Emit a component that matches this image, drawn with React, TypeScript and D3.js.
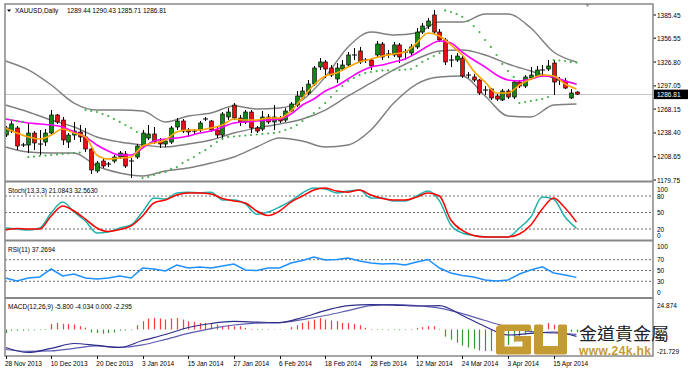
import React from 'react';
import * as d3 from 'd3';

// daily bars, 28 Nov 2013 .. 22 Apr 2014
const opens = [
  1235.8, 1240.8, 1244.6, 1223.4, 1223.4, 1238.3, 1224.6, 1227.1, 1238.3, 1260.8,
  1254.5, 1227.1, 1235.8, 1239.6, 1233.4, 1218.4, 1191.0, 1203.4, 1199.7, 1203.4,
  1208.4, 1212.2, 1203.4, 1208.4, 1222.1, 1232.1, 1237.1, 1228.4, 1224.6, 1227.1,
  1245.8, 1253.3, 1242.1, 1240.8, 1242.1, 1255.8, 1253.3, 1242.1, 1235.8, 1258.3,
  1273.2, 1257.0, 1252.1, 1264.5, 1244.6, 1243.3, 1258.3, 1252.1, 1257.0, 1254.5,
  1265.8, 1273.2, 1283.2, 1288.2, 1299.4, 1320.6, 1326.9, 1319.4, 1305.7, 1318.1,
  1323.1, 1335.6, 1340.6, 1329.3, 1329.3, 1335.6, 1349.3, 1336.8, 1335.6, 1348.1,
  1339.3, 1338.1, 1345.6, 1364.2, 1371.7, 1385.5, 1364.2, 1354.3, 1329.3, 1329.3,
  1331.8, 1310.6, 1308.2, 1304.4, 1291.9, 1293.2, 1284.5, 1279.5, 1290.7, 1283.2,
  1301.9, 1296.9, 1306.9, 1309.4, 1316.9, 1318.1, 1325.6, 1304.4, 1303.2, 1282.0,
  1289.44,
];
const highs = [
  1247.1, 1253.3, 1247.1, 1225.9, 1250.8, 1240.8, 1242.1, 1243.3, 1267.0, 1262.0,
  1258.3, 1238.3, 1252.1, 1248.3, 1244.6, 1219.6, 1203.4, 1205.9, 1202.2, 1210.9,
  1215.9, 1215.9, 1207.2, 1224.6, 1242.1, 1248.3, 1245.8, 1232.1, 1230.9, 1247.1,
  1257.0, 1255.8, 1244.6, 1243.3, 1253.3, 1258.3, 1254.5, 1245.8, 1264.5, 1269.5,
  1275.7, 1260.8, 1267.0, 1267.0, 1247.1, 1265.8, 1262.0, 1273.2, 1259.5, 1269.5,
  1277.0, 1290.7, 1295.7, 1304.4, 1321.9, 1331.8, 1329.3, 1323.1, 1325.6, 1329.3,
  1339.3, 1344.3, 1345.6, 1331.8, 1331.8, 1353.0, 1351.8, 1341.8, 1351.8, 1350.5,
  1343.1, 1349.3, 1369.2, 1375.5, 1381.7, 1391.7, 1368.0, 1356.8, 1335.6, 1338.1,
  1334.3, 1314.4, 1311.9, 1305.7, 1296.9, 1294.4, 1287.0, 1293.2, 1293.2, 1304.4,
  1304.4, 1310.6, 1320.6, 1321.9, 1323.1, 1329.3, 1329.3, 1308.2, 1306.9, 1293.2,
  1290.43,
];
const lows = [
  1233.4, 1238.3, 1217.1, 1220.9, 1213.4, 1217.1, 1210.9, 1222.1, 1235.8, 1249.6,
  1223.4, 1219.6, 1229.6, 1227.1, 1214.6, 1187.2, 1188.5, 1194.7, 1195.9, 1200.9,
  1205.9, 1194.7, 1182.2, 1205.9, 1220.9, 1229.6, 1224.6, 1219.6, 1220.9, 1224.6,
  1242.1, 1238.3, 1233.4, 1235.8, 1239.6, 1253.3, 1239.6, 1232.1, 1232.1, 1254.5,
  1254.5, 1247.1, 1249.6, 1238.3, 1238.3, 1240.8, 1249.6, 1242.1, 1250.8, 1252.1,
  1264.5, 1270.8, 1280.7, 1285.7, 1296.9, 1316.9, 1306.9, 1308.2, 1300.7, 1315.6,
  1320.6, 1329.3, 1324.4, 1325.6, 1316.9, 1333.1, 1329.3, 1331.8, 1333.1, 1325.6,
  1329.3, 1334.3, 1343.1, 1361.8, 1368.0, 1361.8, 1351.8, 1323.1, 1320.6, 1326.9,
  1306.9, 1306.9, 1301.9, 1285.7, 1285.7, 1279.5, 1278.2, 1278.2, 1280.7, 1280.7,
  1294.4, 1294.4, 1304.4, 1308.2, 1308.2, 1315.6, 1285.7, 1298.2, 1293.2, 1280.7,
  1285.71,
];
const closes = [
  1244.6, 1249.6, 1222.1, 1222.8, 1238.3, 1225.9, 1224.3, 1238.3, 1260.8, 1252.1,
  1229.6, 1235.8, 1240.8, 1233.4, 1218.4, 1192.2, 1200.9, 1197.2, 1199.1, 1208.4,
  1213.4, 1197.2, 1202.8, 1222.1, 1238.3, 1237.1, 1227.1, 1224.6, 1228.4, 1244.6,
  1253.3, 1240.8, 1239.6, 1240.2, 1250.8, 1255.2, 1242.1, 1235.8, 1262.0, 1264.5,
  1257.0, 1252.1, 1264.5, 1244.6, 1240.8, 1258.3, 1252.1, 1258.3, 1253.3, 1265.8,
  1274.5, 1284.5, 1290.7, 1299.4, 1319.4, 1326.9, 1318.1, 1310.6, 1319.4, 1323.1,
  1335.6, 1335.0, 1326.9, 1328.7, 1321.9, 1349.3, 1333.1, 1336.2, 1348.1, 1333.1,
  1338.7, 1345.6, 1364.2, 1371.7, 1378.0, 1364.2, 1354.3, 1326.9, 1328.7, 1334.3,
  1309.4, 1310.0, 1304.4, 1288.2, 1291.3, 1282.0, 1280.7, 1290.7, 1283.2, 1301.9,
  1296.9, 1308.2, 1310.6, 1316.9, 1316.3, 1321.9, 1301.9, 1303.8, 1294.4, 1288.2,
  1286.81,
];

// parabolic SAR, one dot per bar
const sar = [
  1255.8, 1254.5, 1253.3, 1252.1, 1208.4, 1209.0, 1209.7, 1210.3, 1210.9, 1211.5,
  1212.2, 1212.8, 1213.4, 1214.0, 1267.0, 1265.8, 1264.5, 1262.0, 1259.5, 1255.8,
  1252.1, 1248.3, 1244.6, 1239.6, 1182.2, 1183.5, 1186.0, 1188.5, 1189.7, 1193.5,
  1195.9, 1200.9, 1204.7, 1208.4, 1213.4, 1217.1, 1222.1, 1227.1, 1230.9, 1233.4,
  1234.0, 1234.6, 1235.2, 1235.8, 1236.5, 1237.1, 1237.7, 1238.3, 1239.6, 1242.1,
  1244.6, 1248.3, 1253.3, 1258.3, 1263.3, 1269.5, 1275.7, 1283.2, 1290.7, 1296.9,
  1303.2, 1306.9, 1310.6, 1313.1, 1314.4, 1315.6, 1316.3, 1316.3, 1316.9, 1316.9,
  1317.5, 1318.1, 1321.9, 1326.9, 1330.6, 1334.3, 1338.1, 1391.1, 1389.2, 1386.7,
  1383.0, 1378.0, 1371.7, 1364.2, 1354.3, 1345.6, 1335.6, 1324.4, 1315.6, 1308.2,
  1275.7, 1277.0, 1278.2, 1279.5, 1280.7, 1283.2, 1329.3, 1328.7, 1328.1, 1326.9,
  1326.2,
];

// bollinger bands, read every 4th bar
const BAND_STEP = 4;
const bandUpper = [
  1328.1, 1316.9, 1298.2, 1275.7, 1267.0, 1267.0, 1265.8, 1252.1, 1259.5, 1263.3,
  1272.0, 1268.3, 1269.5, 1279.5, 1308.2, 1345.6, 1364.2, 1360.5, 1363.0, 1376.7,
  1376.7, 1386.7, 1386.7, 1369.2, 1339.3, 1326.9,
];
const bandMiddle = [
  1273.2, 1264.5, 1254.5, 1245.8, 1233.4, 1227.1, 1223.4, 1220.9, 1224.6, 1229.6,
  1238.3, 1244.6, 1249.6, 1255.8, 1267.0, 1284.5, 1300.7, 1316.9, 1330.6, 1340.6,
  1341.8, 1335.6, 1324.4, 1315.6, 1306.9, 1299.4,
];
const bandLower = [
  1220.9, 1214.6, 1213.4, 1213.4, 1197.2, 1188.5, 1184.7, 1191.0, 1194.7, 1200.9,
  1208.4, 1220.9, 1232.1, 1228.4, 1220.9, 1223.4, 1242.1, 1275.7, 1299.4, 1308.2,
  1309.4, 1284.5, 1259.5, 1258.3, 1273.2, 1274.5,
];

// moving averages, read every 2nd bar
const MA_STEP = 2;
const maFast = [
  1244.6, 1238.3, 1233.4, 1230.9, 1235.8, 1243.3, 1238.3, 1233.4, 1210.9, 1205.9,
  1207.2, 1208.4, 1222.1, 1225.9, 1229.6, 1239.6, 1242.1, 1242.1, 1244.6, 1248.3,
  1255.8, 1254.5, 1254.5, 1257.0, 1257.0, 1265.8, 1282.0, 1298.2, 1309.4, 1313.1,
  1320.6, 1326.9, 1330.6, 1334.3, 1336.8, 1339.3, 1350.5, 1363.0, 1359.3, 1348.1,
  1335.6, 1315.6, 1301.9, 1288.2, 1288.2, 1298.2, 1305.7, 1310.6, 1309.4, 1299.4,
  1293.2,
];
const maSlow = [
  1255.8, 1253.3, 1250.8, 1249.6, 1248.3, 1245.8, 1239.6, 1233.4, 1223.4, 1215.9,
  1210.9, 1210.9, 1219.6, 1228.4, 1230.9, 1232.1, 1234.6, 1238.3, 1240.8, 1245.8,
  1250.8, 1252.1, 1253.3, 1254.5, 1255.8, 1262.0, 1273.2, 1280.7, 1290.7, 1296.9,
  1305.7, 1314.4, 1320.6, 1323.1, 1326.9, 1330.6, 1338.1, 1346.8, 1353.0, 1350.5,
  1339.3, 1329.3, 1320.6, 1310.6, 1304.4, 1303.2, 1305.7, 1309.4, 1308.2, 1303.2,
  1299.4,
];

// oscillators, read every 2nd bar
const OSC_STEP = 2;
const stochK = [
  21.8, 20, 18.2, 21.8, 49, 69, 51, 34.5, 12.7, 14.5, 21.8, 27.3, 51, 76.4, 74.5,
  85.5, 87, 85.5, 87, 72.7, 72.7, 65.5, 47, 51, 60, 71, 85.5, 94.5, 92.7, 85.5,
  89, 90.9, 76.4, 76.4, 70.9, 70.9, 80, 89, 71, 27.3, 12.7, 8.2, 5.5, 5.5, 5.5,
  21.8, 41.8, 78, 74, 41.8, 21.08,
];
const stochD = [
  18.2, 21, 20, 20, 43.6, 61.8, 52.7, 38, 21.8, 15.5, 19, 25.5, 43.6, 67.3, 72.7,
  81.8, 85.5, 85.5, 83.6, 75.5, 70.9, 67.3, 52.7, 44.5, 52.7, 69, 80, 90.9, 94.5,
  89, 87, 90.9, 81.8, 75.5, 72.7, 72.7, 78, 85.5, 80, 36.4, 17.3, 8.2, 5.5, 5.5,
  5.5, 10.9, 27.3, 56.4, 76.4, 58, 32.56,
];
const rsi = [
  36.1, 30.6, 36.1, 38, 52.8, 39.8, 43.5, 36.1, 34.3, 36.1, 39.8, 36.1, 54.6, 52.8,
  49.1, 60.2, 54.6, 56.5, 54.6, 58.3, 62, 50.9, 50, 54.6, 54.6, 63.9, 68.5, 75,
  69.4, 70.4, 73.1, 67.6, 63.9, 62, 63, 60.2, 65.7, 70.4, 54.6, 45.4, 40.7, 38,
  32.4, 30.6, 32.4, 43.5, 50.9, 57, 45.4, 41.7, 37.27,
];

// MACD lines read every 4th bar, histogram per bar
const MACD_STEP = 4;
const macdMain = [
  -15, -19.2, -15.8, -11.7, -13.3, -15, -9.2, -4.2, 1.7, 5, 6.7, 6.2, 5.8, 10,
  15.8, 20, 20.8, 20.4, 19.6, 20, 11.7, 2.5, -4.6, -3.3, -2.1, -5.8,
];
const macdSignal = [
  -16.7, -18.3, -17.9, -15.8, -13.75, -15, -12.9, -8.3, -3.3, 0.8, 3.75, 5.4, 5.8,
  8.3, 11.7, 15.8, 20, 20.8, 20, 17.9, 13.3, 7.5, 2.1, -1.8, -2.9, -4.03,
];
const macdHist = [
  -3, -1, -1, -1, -0.8, -0.6, -0.5, -0.4, 4.7, 5.5, 4.7, 4.7, 4.2, 2.8, 1.5, -2.5,
  -3, -3.5, -3, -2.5, -1, -0.8, -0.5, 3.6, 6.9, 9.2, 9.7, 9.2, 8.3, 9.2, 9.7, 8.3,
  6.9, 6.4, 5.5, 5.5, 4.7, 4.2, 2.8, 3.6, 2.8, 2.8, 1.4, 0.5, -0.5, -0.5, -0.4,
  -0.3, -0.3, -0.2, 2, 3.6, 5.5, 6.9, 8.3, 9.7, 8.3, 7.5, 6.9, 5.5, 5.5, 4.7, 3.6,
  1.4, 0.4, -0.4, -0.5, -0.5, -0.4, -0.6, -0.5, 0.5, 1.2, 2, 2.8, 2.8, 0.5, -6,
  -8.5, -11, -13.5, -15, -16, -17.5, -18, -18, -17, -15, -13, -10, -7, -4, -1,
  1.5, 3.5, 5.5, 4, 1, -1.5, -2, -2.3,
];

const priceTicks = [1385.45, 1356.55, 1326.80, 1297.05, 1268.15, 1238.40, 1208.65, 1179.75];
const DATE_STEP = 8;
const dateLabels = [
  '28 Nov 2013', '10 Dec 2013', '20 Dec 2013', '3 Jan 2014', '15 Jan 2014', '27 Jan 2014',
  '6 Feb 2014', '18 Feb 2014', '28 Feb 2014', '12 Mar 2014', '24 Mar 2014', '3 Apr 2014', '15 Apr 2014',
];
const stochLevels = [80, 50, 20];
const rsiLevels = [70, 50, 30];
const macdMax = 24.874;
const macdMinLabel = '-21.729';

const FONT = '"Liberation Sans", Arial, sans-serif';
const GOLD = '#c49b32';

export default function App() {
  const n = opens.length;
  const left = 5, right = 653;
  const x = d3.scaleLinear().domain([0, n - 1]).range([5.5, 576.5]);
  const yP = d3.scaleLinear().domain([1179.75, 1385.45]).range([180, 15]);
  const yS = d3.scaleLinear().domain([0, 100]).range([240, 185]);
  const yR = d3.scaleLinear().domain([0, 100]).range([297.5, 243.5]);
  const yM = d3.scaleLinear().domain([0, macdMax]).range([329.5, 299.7]);

  const lineOf = (step: number, y: (v: number) => number, curve: d3.CurveFactory = d3.curveMonotoneX) =>
    d3.line<number>().x((_, i) => x(i * step)).y(d => y(d)).curve(curve);

  const last = n - 1;
  const fmt = (v: number) => v.toFixed(2);
  const bodyW = 3.6;
  const px = (i: number) => Math.round(x(i)) + 0.5;

  const txt = { fontFamily: FONT, fontSize: 6.5, fill: '#000' } as const;

  return (
    <div style={{ position: 'absolute', left: 0, top: 0 }}>
      <svg width={688} height={371} style={{ display: 'block', background: '#fff' }}>
        <defs>
          <clipPath id="mainClip"><rect x={left} y={4} width={right - left} height={177} /></clipPath>
          <clipPath id="macdClip"><rect x={left} y={299} width={right - left} height={57} /></clipPath>
        </defs>

        {/* main panel */}
        <line x1={left} x2={right} y1={Math.round(yP(closes[last])) + 0.5} y2={Math.round(yP(closes[last])) + 0.5} stroke="#c8c8c8" />
        <g clipPath="url(#mainClip)">
          {[bandUpper, bandMiddle, bandLower].map((b, k) => (
            <path key={k} d={lineOf(BAND_STEP, yP)(b) || ''} fill="none" stroke="#7f7f7f" strokeWidth={1.4} />
          ))}
          {opens.map((o, i) => {
            const c = closes[i];
            const cx = px(i);
            const flat = Math.abs(c - o) < 0.9;
            const top = yP(Math.max(o, c));
            const bot = yP(Math.min(o, c));
            return (
              <g key={i}>
                <line x1={cx} x2={cx} y1={yP(highs[i])} y2={yP(lows[i])} stroke="#000" strokeWidth={1} />
                {flat ? (
                  <line x1={cx - 2.5} x2={cx + 2.5} y1={top} y2={top} stroke="#000" strokeWidth={1} />
                ) : (
                  <rect x={cx - bodyW / 2} y={top} width={bodyW} height={Math.max(1, bot - top)}
                    fill={c > o ? '#118c11' : '#ee1111'} stroke="#000" strokeWidth={0.7} />
                )}
              </g>
            );
          })}
          <path d={lineOf(MA_STEP, yP)(maSlow) || ''} fill="none" stroke="#ff00ff" strokeWidth={1.6} />
          <path d={lineOf(MA_STEP, yP)(maFast) || ''} fill="none" stroke="#ffa500" strokeWidth={1.6} />
          {sar.map((s, i) => (
            <circle key={i} cx={x(i)} cy={yP(s)} r={1.1} fill="#43b04a" />
          ))}
        </g>
        <path d="M585,4 L590,4 L587.5,7 Z" fill="#999" />
        <path d="M7,9.5 L11,9.5 L9,12 Z" fill="#000" />
        <text x={15} y={13} {...txt}>XAUUSD,Daily</text>
        <text x={67} y={13} {...txt}>
          {`${fmt(opens[last])} ${fmt(highs[last])} ${fmt(lows[last])} ${fmt(closes[last])}`}
        </text>
        {priceTicks.map(t => (
          <g key={t}>
            <line x1={right} x2={right + 3} y1={yP(t)} y2={yP(t)} stroke="#000" />
            <text x={657} y={yP(t) + 2.5} {...txt}>{t.toFixed(2)}</text>
          </g>
        ))}
        <rect x={right + 1} y={yP(closes[last]) - 4.5} width={34} height={9.5} fill="#000" />
        <text x={657} y={yP(closes[last]) + 2.7} {...txt} fill="#fff">{fmt(closes[last])}</text>

        {/* stochastic */}
        {stochLevels.map(l => (
          <line key={l} x1={left} x2={right} y1={yS(l)} y2={yS(l)} stroke="#444" strokeWidth={0.8} strokeDasharray="2,2" />
        ))}
        <path d={lineOf(OSC_STEP, yS)(stochK) || ''} fill="none" stroke="#20b2aa" strokeWidth={1.5} />
        <path d={lineOf(OSC_STEP, yS)(stochD) || ''} fill="none" stroke="#ff0000" strokeWidth={1.5} />
        <text x={8} y={193} {...txt}>Stoch(13,3,3) 21.0843 32.5630</text>
        {[100, 80, 50, 20, 0].map(v => (
          <text key={v} x={657} y={v === 100 ? 191.5 : v === 0 ? 237.5 : yS(v) + 2.5} {...txt}>{v}</text>
        ))}

        {/* RSI */}
        {rsiLevels.map(l => (
          <line key={l} x1={left} x2={right} y1={yR(l)} y2={yR(l)} stroke="#444" strokeWidth={0.8} strokeDasharray="2,2" />
        ))}
        <path d={lineOf(OSC_STEP, yR, d3.curveLinear)(rsi) || ''} fill="none" stroke="#1e90ff" strokeWidth={1.5} />
        <text x={8} y={252} {...txt}>RSI(11) 37.2694</text>
        {[100, 70, 50, 30, 0].map(v => (
          <text key={v} x={657} y={v === 100 ? 249 : v === 0 ? 295 : yR(v) + 2.3} {...txt}>{v}</text>
        ))}

        {/* MACD */}
        <g clipPath="url(#macdClip)">
          {macdHist.map((h, i) => (
            <line key={i} x1={px(i)} x2={px(i)} y1={yM(0)} y2={yM(h)} stroke={h >= 0 ? '#ff3b3b' : '#2f9e2f'} strokeWidth={1.2} />
          ))}
          <path d={lineOf(MACD_STEP, yM)(macdSignal) || ''} fill="none" stroke="#5b5bb0" strokeWidth={1.2} />
          <path d={lineOf(MACD_STEP, yM)(macdMain) || ''} fill="none" stroke="#2e2e8a" strokeWidth={1.2} />
        </g>
        <text x={8} y={309} {...txt}>MACD(12,26,9) -5.800 -4.034 0.000 -2.295</text>
        <text x={657} y={307.5} {...txt}>{macdMax.toFixed(3)}</text>
        <text x={657} y={354} {...txt}>{macdMinLabel}</text>

        {/* frames */}
        <rect x={left} y={4} width={right - left} height={352} fill="none" stroke="#888" strokeWidth={1.5} />
        {[181.5, 240.5, 298].map(y => (
          <line key={y} x1={left} x2={right} y1={y} y2={y} stroke="#888" strokeWidth={2.2} />
        ))}

        {/* date axis */}
        {dateLabels.map((d, k) => (
          <g key={d}>
            <line x1={px(k * DATE_STEP)} x2={px(k * DATE_STEP)} y1={356} y2={359} stroke="#000" />
            <text x={x(k * DATE_STEP) - 0.5} y={366} {...txt}>{d}</text>
          </g>
        ))}

        {/* watermark */}
        <g fill={GOLD}>
          <rect x={498} y={324.5} width={33} height={6.5} rx={2} />
          <rect x={496} y={326} width={8.5} height={27} rx={2} />
          <rect x={496} y={346.5} width={35} height={8} rx={2} />
          <rect x={522.5} y={336} width={8.5} height={18} />
          <rect x={514} y={336} width={17} height={5.5} />
          <rect x={534} y={324.5} width={9} height={29} rx={1.5} />
          <rect x={558} y={324.5} width={9} height={29} rx={1.5} />
          <rect x={534} y={346} width={33} height={8.5} rx={2} />
        </g>
        <text x={579} y={340} fontFamily='"Noto Sans CJK TC", "Noto Sans CJK SC", sans-serif' fontSize={16.5} fill="#222" textLength={90} lengthAdjust="spacingAndGlyphs">金道貴金屬</text>
        <text x={579} y={355} fontFamily={FONT} fontSize={12} fontWeight="bold" fill={GOLD} textLength={72} lengthAdjust="spacing">www.24k.hk</text>
      </svg>
    </div>
  );
}
